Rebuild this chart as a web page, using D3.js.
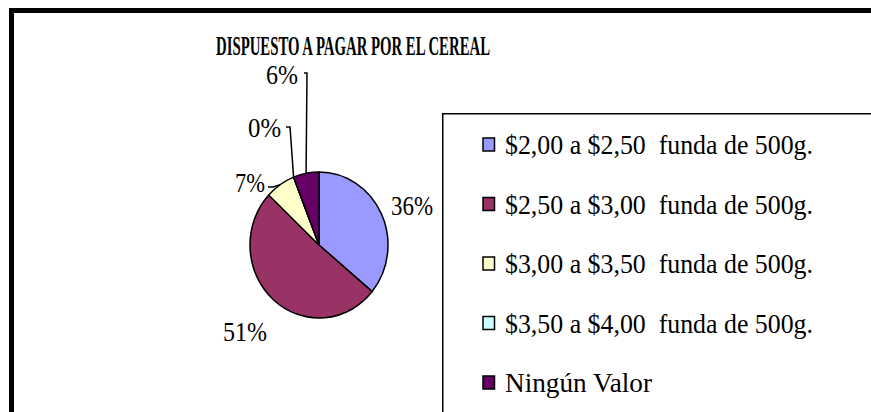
<!DOCTYPE html>
<html>
<head>
<meta charset="utf-8">
<script src="https://cdn.jsdelivr.net/npm/d3@7"></script>
<style>
  html, body { margin: 0; padding: 0; background: #fff; }
  svg { display: block; }
</style>
</head>
<body>
<svg id="chart" width="871" height="412"></svg>
<script>
// ---- data ----
const title = "DISPUESTO A PAGAR POR EL CEREAL";
const categories = [
  "$2,00 a $2,50\u00a0 funda de 500g.",
  "$2,50 a $3,00\u00a0 funda de 500g.",
  "$3,00 a $3,50\u00a0 funda de 500g.",
  "$3,50 a $4,00\u00a0 funda de 500g.",
  "Ningún Valor"
];
const values = [36, 51, 7, 0, 6];
const colors = ["#9999FF", "#993366", "#FFFFCC", "#CCFFFF", "#660066"];

// ---- layout (label placement relative to pie centre) ----
const FONT = "Liberation Serif";
const labelLayout = [
  { dx: 72,  dy: -30,  w: 42, anchor: "start", leader: null },
  { dx: -96, dy: 96,   w: 44, anchor: "start", leader: null },
  { dx: -54, dy: -53,  w: 30, anchor: "end",   leader: [[-51, -58], [-46, -58]] },
  { dx: -38, dy: -108, w: 33, anchor: "end",   leader: [[-33, -118], [-29, -118]] },
  { dx: -21, dy: -161, w: 32, anchor: "end",   leader: [[-15, -172], [-12, -172]] }
];

const svg = d3.select("#chart");
const W = 871, H = 412;

// outer frame
svg.append("rect")
  .attr("x", 11.5).attr("y", 10.5)
  .attr("width", W + 20).attr("height", H + 20)
  .attr("fill", "#fff").attr("stroke", "#000").attr("stroke-width", 5);

// title
svg.append("text")
  .attr("x", 216).attr("y", 55)
  .attr("font-family", FONT)
  .attr("font-size", 27).attr("font-weight", "bold")
  .attr("textLength", 274).attr("lengthAdjust", "spacingAndGlyphs")
  .text(title);

// pie
const cx = 319, cy = 245, rx = 69, ry = 73;
const pie = d3.pie().sort(null).value(d => d)(values);
const arc = d3.arc().innerRadius(0).outerRadius(rx);

const g = svg.append("g")
  .attr("transform", `translate(${cx},${cy}) scale(1,${ry / rx})`);
g.selectAll("path").data(pie).enter().append("path")
  .attr("d", arc)
  .attr("fill", (d, i) => colors[i])
  .attr("stroke", "#000").attr("stroke-width", 1.5)
  .attr("stroke-linejoin", "round");

// labels
const pct = d3.format(".0%");
const total = d3.sum(values);
pie.forEach((d, i) => {
  const L = labelLayout[i];
  svg.append("text")
    .attr("x", cx + L.dx).attr("y", cy + L.dy)
    .attr("font-family", FONT)
    .attr("font-size", 27)
    .attr("text-anchor", L.anchor)
    .attr("textLength", L.w).attr("lengthAdjust", "spacingAndGlyphs")
    .text(pct(d.value / total));
  if (L.leader) {
    const mid = (d.startAngle + d.endAngle) / 2;
    const edge = [cx + rx * Math.sin(mid), cy - ry * Math.cos(mid)];
    const pts = L.leader.map(p => [cx + p[0], cy + p[1]]).concat([edge]);
    svg.append("path")
      .attr("d", d3.line()(pts))
      .attr("fill", "none").attr("stroke", "#000").attr("stroke-width", 1.5);
  }
});

// legend
const legX = 442, legY = 113;
svg.append("rect")
  .attr("x", legX + 0.75).attr("y", legY + 0.75)
  .attr("width", 500).attr("height", 400)
  .attr("fill", "#fff").attr("stroke", "#000").attr("stroke-width", 1.5);

const rowY = d3.scalePoint().domain(d3.range(categories.length)).range([154, 392]);
const legendWidths = [308, 308, 308, 308, 147];
categories.forEach((c, i) => {
  const y = rowY(i);
  svg.append("rect")
    .attr("x", 483).attr("y", y - 16)
    .attr("width", 11.5).attr("height", 13)
    .attr("fill", colors[i]).attr("stroke", "#000").attr("stroke-width", 1.5);
  svg.append("text")
    .attr("x", 505).attr("y", y)
    .attr("font-family", FONT)
    .attr("font-size", 28)
    .attr("textLength", legendWidths[i]).attr("lengthAdjust", "spacingAndGlyphs")
    .text(c);
});
</script>
</body>
</html>
